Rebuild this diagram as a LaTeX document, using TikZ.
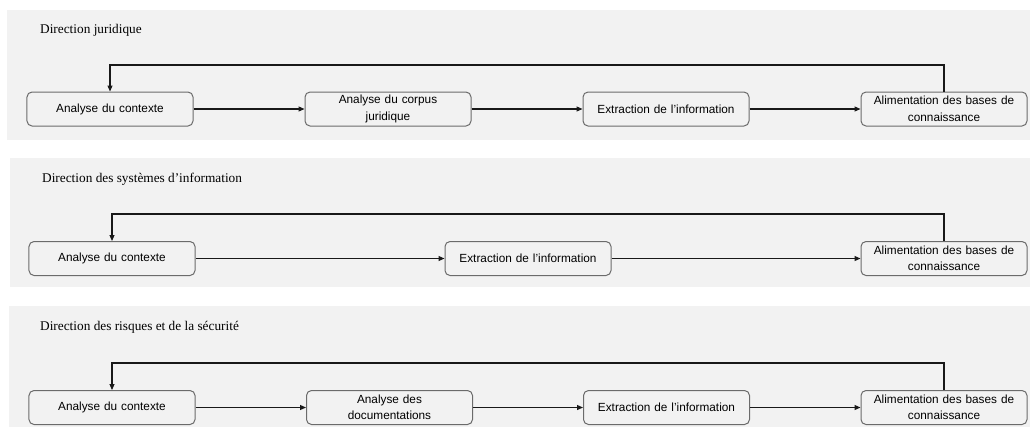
\documentclass[tikz,border=0pt]{standalone}
\usepackage{fontspec}
\setmainfont{Liberation Serif}
\newfontfamily\boxfont{Liberation Sans}
\usetikzlibrary{arrows.meta}
\definecolor{panelgray}{HTML}{F2F2F2}
\definecolor{boxedge}{HTML}{6B6B6B}
\tikzset{
  panel/.style={fill=panelgray, draw=none},
  title/.style={anchor=base west, inner sep=0pt, font=\fontsize{13.3bp}{15bp}\selectfont},
  stepbox/.style={rectangle, rounded corners=5bp, draw=boxedge, line width=1bp,
    fill=panelgray, minimum width=166bp, minimum height=34bp, inner sep=0pt,
    align=center, text width=160bp, font=\boxfont\fontsize{11.8bp}{16.5bp}\selectfont},
  flow/.style={draw=black!90, line width=1.1bp, -{Triangle[length=6bp,width=5bp]}},
}
\begin{document}
\begin{tikzpicture}[x=1bp, y=-1bp]
\useasboundingbox (0,0) rectangle (1030,427);

% background bands, one per department
\fill[panel] (7,10) rectangle (1030,140);
\fill[panel] (10,158) rectangle (1030,287);
\fill[panel] (9,306) rectangle (1030,427);

% ---- Direction juridique ----
\node[title] (t1) at (40,33) {Direction juridique};
\node[stepbox] (a1) at (110,109) {Analyse du contexte};
\node[stepbox] (b1) at (388,109) {Analyse du corpus\\juridique};
\node[stepbox] (c1) at (666,109) {Extraction de l’information};
\node[stepbox] (d1) at (944,109) {Alimentation des bases de\\connaissance};
\coordinate (r1) at (0,65);
\draw[flow] (a1) -- (b1);
\draw[flow] (b1) -- (c1);
\draw[flow] (c1) -- (d1);
\draw[flow] (d1.north) -- (d1.north |- r1) -| (a1.north);

% ---- Direction des systèmes d'information ----
\node[title] (t2) at (42,182) {Direction des systèmes d’information};
\node[stepbox] (a2) at (112,258.5) {Analyse du contexte};
\node[stepbox] (c2) at (528,258.5) {Extraction de l’information};
\node[stepbox] (d2) at (944,258.5) {Alimentation des bases de\\connaissance};
\coordinate (r2) at (0,214);
\draw[flow] (a2) -- (c2);
\draw[flow] (c2) -- (d2);
\draw[flow] (d2.north) -- (d2.north |- r2) -| (a2.north);

% ---- Direction des risques et de la sécurité ----
\node[title] (t3) at (40,330) {Direction des risques et de la sécurité};
\node[stepbox] (a3) at (112,407.5) {Analyse du contexte};
\node[stepbox] (b3) at (389.5,407.5) {Analyse des\\documentations};
\node[stepbox] (c3) at (666.5,407.5) {Extraction de l’information};
\node[stepbox] (d3) at (944,407.5) {Alimentation des bases de\\connaissance};
\coordinate (r3) at (0,363);
\draw[flow] (a3) -- (b3);
\draw[flow] (b3) -- (c3);
\draw[flow] (c3) -- (d3);
\draw[flow] (d3.north) -- (d3.north |- r3) -| (a3.north);
\end{tikzpicture}
\end{document}
